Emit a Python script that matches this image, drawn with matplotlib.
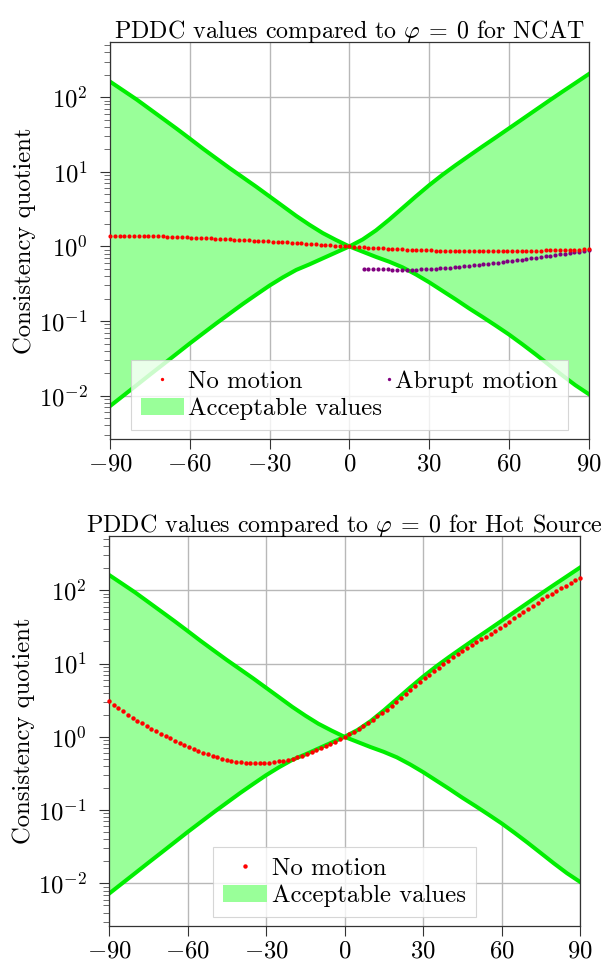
import numpy as np
import matplotlib
matplotlib.use("Agg")
import matplotlib.pyplot as plt
from matplotlib.ticker import LogLocator, NullFormatter, FuncFormatter, FixedLocator
from matplotlib.legend_handler import HandlerBase
from matplotlib.lines import Line2D

plt.rcParams['font.family'] = 'serif'
plt.rcParams['font.serif'] = ['cmr10']
plt.rcParams['mathtext.fontset'] = 'cm'
plt.rcParams['axes.unicode_minus'] = False
plt.rcParams['axes.formatter.use_mathtext'] = True

# ---------------- data ----------------
# acceptable-value bounds, sampled every 5 degrees
bound_angles = [-90, -85, -80, -75, -70, -65, -60, -55, -50, -45, -40, -35, -30, -25, -20, -15, -10, -5,
                0, 5, 10, 15, 20, 25, 30, 35, 40, 45, 50, 55, 60, 65, 70, 75, 80, 85, 90]
upper_bound = [162, 123, 93.3, 69.2, 51.3, 38.0, 27.9, 20.4, 15.1, 11.2, 8.41, 6.31, 4.68, 3.47, 2.57, 1.95, 1.51, 1.22,
               1.0, 1.24, 1.64, 2.29, 3.27, 4.68, 6.61, 9.12, 12.3, 16.4, 21.8, 28.8, 38.2, 50.7, 67.3, 89.3, 118, 155, 204]
lower_bound = [0.00724, 0.0100, 0.0138, 0.0191, 0.0263, 0.0363, 0.0501, 0.0684, 0.0933, 0.126, 0.170, 0.226, 0.299,
               0.385, 0.484, 0.575, 0.692, 0.832,
               1.0, 0.851, 0.724, 0.624, 0.525, 0.422, 0.331, 0.254, 0.195, 0.148, 0.114, 0.0871, 0.0661, 0.0490,
               0.0359, 0.0260, 0.0188, 0.0138, 0.0105]

# measurement angles (101 samples from -90 to 90)
angles = np.linspace(-90, 90, 101)

ncat_no_motion = [
    1.370, 1.375, 1.380, 1.383, 1.385, 1.386, 1.385, 1.383, 1.380, 1.376,
    1.371, 1.365, 1.358, 1.351, 1.343, 1.335, 1.326, 1.317, 1.308, 1.299,
    1.290, 1.281, 1.272, 1.263, 1.254, 1.245, 1.236, 1.227, 1.218, 1.209,
    1.200, 1.191, 1.182, 1.173, 1.164, 1.155, 1.145, 1.135, 1.125, 1.115,
    1.104, 1.093, 1.082, 1.071, 1.060, 1.049, 1.038, 1.027, 1.017, 1.008,
    1.000, 0.990, 0.981, 0.972, 0.964, 0.956, 0.948, 0.941, 0.934, 0.927,
    0.921, 0.915, 0.909, 0.904, 0.899, 0.894, 0.889, 0.885, 0.881, 0.877,
    0.874, 0.871, 0.868, 0.866, 0.864, 0.862, 0.861, 0.860, 0.859, 0.859,
    0.859, 0.860, 0.861, 0.862, 0.864, 0.866, 0.868, 0.871, 0.874, 0.877,
    0.880, 0.884, 0.887, 0.891, 0.895, 0.899, 0.902, 0.905, 0.908, 0.911,
    0.914]

# abrupt motion starts at the 54th sample (5.4 degrees)
abrupt_start = 53
ncat_abrupt = [
    0.500, 0.499, 0.497, 0.495, 0.493, 0.491, 0.490, 0.489, 0.488, 0.488,
    0.489, 0.490, 0.492, 0.495, 0.498, 0.502, 0.507, 0.513, 0.519, 0.526,
    0.533, 0.541, 0.549, 0.558, 0.567, 0.577, 0.587, 0.597, 0.608, 0.619,
    0.630, 0.642, 0.654, 0.666, 0.679, 0.692, 0.705, 0.722, 0.737, 0.752,
    0.768, 0.784, 0.800, 0.817, 0.834, 0.852, 0.871, 0.890]

hot_no_motion = [
    3.06, 2.74, 2.46, 2.22, 2.01, 1.83, 1.67, 1.53, 1.40, 1.29,
    1.19, 1.10, 1.02, 0.950, 0.885, 0.825, 0.772, 0.724, 0.680, 0.641,
    0.606, 0.575, 0.547, 0.523, 0.502, 0.484, 0.469, 0.457, 0.448, 0.442,
    0.438, 0.436, 0.437, 0.440, 0.445, 0.452, 0.462, 0.474, 0.488, 0.504,
    0.523, 0.552, 0.585, 0.620, 0.660, 0.700, 0.745, 0.795, 0.850, 0.920,
    1.000, 1.09, 1.18, 1.29, 1.41, 1.56, 1.72, 1.91, 2.11, 2.36,
    2.66, 2.98, 3.37, 3.82, 4.33, 4.90, 5.55, 6.27, 7.03, 7.91,
    8.83, 9.84, 11.0, 12.1, 13.4, 14.8, 16.2, 17.8, 19.5, 21.3,
    23.3, 25.6, 28.0, 30.7, 33.8, 37.3, 41.2, 45.5, 50.2, 55.6,
    61.4, 67.8, 74.8, 82.2, 90.0, 98.0, 107, 116, 126, 137,
    149]

x_ticks = [-90, -60, -30, 0, 30, 60, 90]
y_major = [1e-2, 1e-1, 1e0, 1e1, 1e2]

titles = [r'PDDC values compared to $\varphi\:=\:0$ for NCAT',
          r'PDDC values compared to $\varphi\:=\:0$ for Hot Source']

# ---------------- style ----------------
FILL = '#99ff99'
LINE = '#00ee00'
GRID = '#b8b8b8'
FS = 17.8
FS_TITLE = 17.3


class RightDotHandler(HandlerBase):
    """legend image: a single marker placed at the right end of the handle box"""
    def create_artists(self, legend, orig_handle, xdescent, ydescent, width, height, fontsize, trans):
        ln = Line2D([width - xdescent - 2.0], [0.5 * height - ydescent], linestyle='none',
                    marker='o', markersize=orig_handle.get_markersize() * 0.8,
                    markeredgewidth=0, color=orig_handle.get_color())
        ln.set_transform(trans)
        return [ln]


fig = plt.figure(figsize=(6.02, 9.64), dpi=100)
ax1 = fig.add_axes([110 / 602, 1 - 439.3 / 964, 478.7 / 602, 397.6 / 964])
ax2 = fig.add_axes([109 / 602, 1 - 926.3 / 964, 471 / 602, 390.6 / 964])


def style_axis(ax, title):
    ax.set_yscale('log')
    ax.set_xlim(-90, 90)
    ax.set_ylim(0.0026, 555)
    ax.xaxis.set_major_locator(FixedLocator(x_ticks))
    ax.xaxis.set_major_formatter(FuncFormatter(lambda v, p: r'$%d$' % v))
    ax.yaxis.set_major_locator(FixedLocator(y_major))
    ax.yaxis.set_major_formatter(FuncFormatter(lambda v, p: r'$10^{%d}$' % round(np.log10(v))))
    ax.yaxis.set_minor_locator(LogLocator(base=10, subs=np.arange(2, 10), numticks=20))
    ax.yaxis.set_minor_formatter(NullFormatter())
    ax.grid(True, which='major', color=GRID, linewidth=1.0, zorder=0)
    ax.set_axisbelow(True)
    ax.tick_params(axis='y', which='major', direction='out', length=7, width=0.8, pad=9,
                   labelsize=FS, right=False, colors='#333333', labelcolor='black')
    ax.tick_params(axis='x', which='major', direction='out', length=7, width=0.8, pad=3,
                   labelsize=FS, top=False, colors='#333333', labelcolor='black')
    ax.tick_params(axis='y', which='minor', direction='out', length=4, width=0.6,
                   right=False, colors='#555555')
    ax.tick_params(axis='x', which='minor', bottom=False, top=False)
    for s in ax.spines.values():
        s.set_color('#333333')
        s.set_linewidth(0.9)
    ax.set_ylabel('Consistency quotient', fontsize=FS, labelpad=2)
    ax.set_title(title, fontsize=FS_TITLE, pad=2.5)


def draw_bounds(ax):
    fill = ax.fill_between(bound_angles, lower_bound, upper_bound, color=FILL, linewidth=0,
                           zorder=1, label='Acceptable values')
    ax.plot(bound_angles, upper_bound, color=LINE, linewidth=2.9, zorder=2, solid_joinstyle='round')
    ax.plot(bound_angles, lower_bound, color=LINE, linewidth=2.9, zorder=2, solid_joinstyle='round')
    return fill


# ---- top: NCAT ----
style_axis(ax1, titles[0])
f1 = draw_bounds(ax1)
p1, = ax1.plot(angles, ncat_no_motion, linestyle='none', marker='o', markersize=3.0,
               color='red', markeredgewidth=0, zorder=4, label='No motion', clip_on=False)
p2, = ax1.plot(angles[abrupt_start:], ncat_abrupt, linestyle='none', marker='o', markersize=3.0,
               color='#800080', markeredgewidth=0, zorder=3, label='Abrupt motion', clip_on=False)
leg1 = ax1.legend([p1, f1, p2], ['No motion', 'Acceptable values', 'Abrupt motion'],
                  ncol=2, loc='lower center', bbox_to_anchor=(0.5, 0.0), borderaxespad=0.38,
                  fontsize=FS, frameon=True, fancybox=False, edgecolor='#cccccc', framealpha=0.8,
                  handlelength=1.77, handletextpad=0.16, columnspacing=-1.4, labelspacing=0.2,
                  borderpad=0.4, markerscale=0.8,
                  handler_map={p2: RightDotHandler()})
leg1.get_frame().set_linewidth(0.8)
leg1.set_zorder(10)

# ---- bottom: Hot Source ----
style_axis(ax2, titles[1])
f2 = draw_bounds(ax2)
p3, = ax2.plot(angles, hot_no_motion, linestyle='none', marker='o', markersize=3.2,
               color='red', markeredgewidth=0, zorder=4, label='No motion', clip_on=False)
leg2 = ax2.legend([p3, f2], ['No motion', 'Acceptable values'],
                  ncol=1, loc='lower center', bbox_to_anchor=(0.5, 0.0), borderaxespad=0.38,
                  fontsize=FS, frameon=True, fancybox=False, edgecolor='#cccccc', framealpha=0.8,
                  handlelength=1.77, handletextpad=0.2, labelspacing=0.2, borderpad=0.4)
leg2.get_frame().set_linewidth(0.8)
leg2.set_zorder(10)

fig.savefig('out.png', dpi=100)
